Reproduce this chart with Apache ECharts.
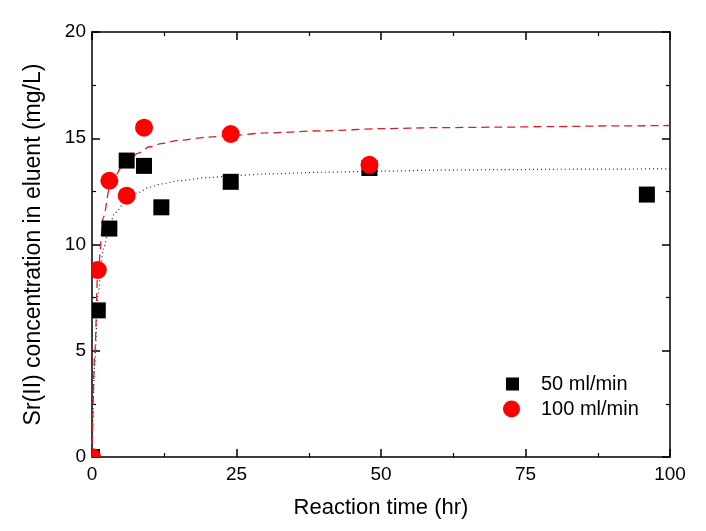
<!DOCTYPE html>
<html>
<head>
<meta charset="utf-8">
<script src="https://cdn.jsdelivr.net/npm/echarts@6/dist/echarts.min.js"></script>
<style>html,body{margin:0;padding:0;background:#fff}#c{width:706px;height:531px}</style>
</head>
<body>
<div id="c"></div>
<script>
// Measured points (time in hr, Sr(II) in mg/L)
const time50 = [0, 1, 3, 6, 9, 12, 24, 48, 96];
const conc50 = [0, 6.9, 10.75, 13.95, 13.7, 11.75, 12.95, 13.6, 12.35];
const time100 = [0, 1, 3, 6, 9, 24, 48];
const conc100 = [0, 8.8, 13.0, 12.3, 15.5, 15.2, 13.75];
// Fit curves
const fitTime50 = [0, 0.5, 1, 2, 3, 4, 6, 8, 10, 12, 15, 20, 25, 30, 40, 50, 60, 70, 80, 90, 100];
const fitConc50 = [0, 4.5, 7.6, 9.8, 10.9, 11.5, 12.1, 12.45, 12.7, 12.85, 13.0, 13.15, 13.25, 13.32, 13.4, 13.45, 13.5, 13.52, 13.54, 13.55, 13.56];
const fitTime100 = [0, 0.5, 1, 2, 3, 4, 5, 6, 8, 10, 12, 15, 20, 25, 30, 40, 50, 60, 70, 80, 90, 100];
const fitConc100 = [0, 5.0, 8.7, 11.3, 12.6, 13.2, 13.6, 13.85, 14.3, 14.6, 14.75, 14.9, 15.05, 15.15, 15.25, 15.35, 15.45, 15.5, 15.52, 15.55, 15.58, 15.6];
const xTicks = [0, 25, 50, 75, 100];
const yTicks = [0, 5, 10, 15, 20];
const seriesNames = ['50 ml/min', '100 ml/min'];
const xTitle = 'Reaction time (hr)';
const yTitle = 'Sr(II) concentration in eluent (mg/L)';

const zip = (a, b) => a.map((v, i) => [v, b[i]]);
const FONT = '"Liberation Sans", Arial, sans-serif';

function marker(kind, color, size) {
  return function (params, api) {
    const p = api.coord([api.value(0), api.value(1)]);
    const cs = params.coordSys;
    const child = kind === 'rect'
      ? { type: 'rect', shape: { x: p[0] - size / 2, y: p[1] - size / 2, width: size, height: size }, style: { fill: color } }
      : { type: 'circle', shape: { cx: p[0], cy: p[1], r: size / 2 }, style: { fill: color } };
    return {
      type: 'group',
      clipPath: { type: 'rect', shape: { x: cs.x, y: cs.y, width: cs.width, height: cs.height } },
      children: [child]
    };
  };
}

const baseAxis = {
  axisLine: { show: true, onZero: false, lineStyle: { color: '#000', width: 1.5 } },
  axisTick: { show: true, inside: true, length: 8, lineStyle: { color: '#000', width: 1.5 } },
  minorTick: { show: true, splitNumber: 2, length: 4, lineStyle: { color: '#000', width: 1.2 } },
  splitLine: { show: false },
  minorSplitLine: { show: false }
};

const chart = echarts.init(document.getElementById('c'), null, { renderer: 'canvas' });
chart.setOption({
  animation: false,
  backgroundColor: '#fff',
  grid: { left: 92, right: 36, top: 32, bottom: 74 },
  xAxis: [
    Object.assign({}, baseAxis, {
      type: 'value', position: 'bottom', min: xTicks[0], max: xTicks[xTicks.length - 1], interval: 25,
      axisLabel: { color: '#000', fontSize: 19, fontFamily: FONT, margin: 8 },
      name: xTitle, nameLocation: 'middle', nameGap: 40,
      nameTextStyle: { color: '#000', fontSize: 22, fontFamily: FONT }
    }),
    Object.assign({}, baseAxis, {
      type: 'value', position: 'top', min: xTicks[0], max: xTicks[xTicks.length - 1], interval: 25,
      axisLabel: { show: false }
    })
  ],
  yAxis: [
    Object.assign({}, baseAxis, {
      type: 'value', position: 'left', min: yTicks[0], max: yTicks[yTicks.length - 1], interval: 5,
      axisLabel: { color: '#000', fontSize: 19, fontFamily: FONT, margin: 6 },
      name: yTitle, nameLocation: 'middle', nameGap: 47, nameRotate: 90,
      nameTextStyle: { color: '#000', fontSize: 23, fontFamily: FONT }
    }),
    Object.assign({}, baseAxis, {
      type: 'value', position: 'right', min: yTicks[0], max: yTicks[yTicks.length - 1], interval: 5,
      axisLabel: { show: false }
    })
  ],
  legend: [
    {
      data: [{ name: seriesNames[0], icon: 'rect' }],
      left: 506, top: 374, padding: 0, itemWidth: 13, itemHeight: 13, selectedMode: false,
      textStyle: { color: '#000', fontSize: 20, fontFamily: FONT, padding: [0, 0, 0, 17] }
    },
    {
      data: [{ name: seriesNames[1], icon: 'circle' }],
      left: 503, top: 399, padding: 0, itemWidth: 17, itemHeight: 17, selectedMode: false,
      textStyle: { color: '#000', fontSize: 20, fontFamily: FONT, padding: [0, 0, 0, 16] }
    }
  ],
  series: [
    {
      name: 'fit50', type: 'line', data: zip(fitTime50, fitConc50), showSymbol: false, symbol: 'none',
      smooth: 0.3, smoothMonotone: 'x', z: 2,
      lineStyle: { color: '#222', width: 1.2, type: [1, 3] }
    },
    {
      name: 'fit100', type: 'line', data: zip(fitTime100, fitConc100), showSymbol: false, symbol: 'none',
      smooth: 0.3, smoothMonotone: 'x', z: 2,
      lineStyle: { color: '#d3202a', width: 1.3, type: [8, 5] }
    },
    {
      name: seriesNames[0], type: 'custom', data: zip(time50, conc50), z: 3,
      itemStyle: { color: '#000' },
      renderItem: marker('rect', '#000', 16)
    },
    {
      name: seriesNames[1], type: 'custom', data: zip(time100, conc100), z: 4,
      itemStyle: { color: '#ff0000' },
      renderItem: marker('circle', '#ff0000', 18)
    }
  ]
});
</script>
</body>
</html>
